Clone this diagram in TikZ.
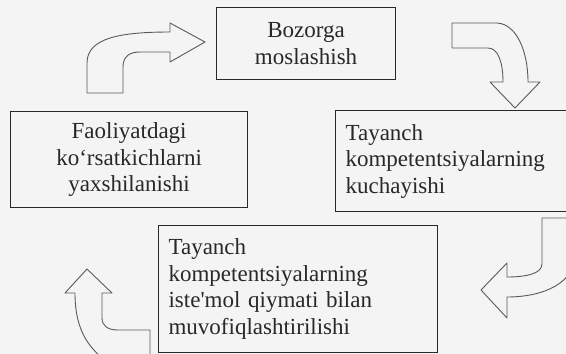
\documentclass[tikz,border=0pt]{standalone}
\usepackage{fontspec}
\setmainfont{Liberation Serif}
\definecolor{paper}{RGB}{244,244,244}
\definecolor{ink}{RGB}{40,40,40}
\definecolor{arrowline}{RGB}{90,90,90}
\begin{document}
\begin{tikzpicture}[x=1pt,y=-1pt,
  box/.style={draw=ink, line width=1.2pt, fill=paper, inner xsep=10pt, inner ysep=0pt,
    anchor=north west, font=\fontsize{23}{26.5}\selectfont, text=ink},
  blockarrow/.style={draw=arrowline, line width=0.9pt, fill=paper, line join=round}]
\fill[paper] (0,0) rectangle (566,354);
\useasboundingbox (0,0) rectangle (566,354);
\clip (0,0) rectangle (566,354);
% block arrows
\draw[blockarrow] (87,93) -- (87,63) .. controls (87,38) and (120,32) .. (170,32)
  -- (170,23) -- (205,42) -- (170,62) -- (170,52) -- (140,52)
  .. controls (130,52) and (123,56) .. (123,67) -- (123,93) -- cycle;
\draw[blockarrow] (452,23) -- (497,23) .. controls (516,24) and (528,50) .. (528,82)
  -- (540,82) -- (515,108) -- (490,82) -- (503,82)
  .. controls (503,62) and (498,48) .. (488,48) -- (452,48) -- cycle;
\draw[blockarrow] (542,218) -- (575,218) -- (575,255)
  .. controls (575,282) and (545,297) .. (507,297) -- (507,318) -- (481,290)
  -- (507,263) -- (507,277) .. controls (525,277) and (542,274) .. (542,264) -- cycle;
\draw[blockarrow] (87,269) -- (112,293) -- (102,293) -- (102,318)
  .. controls (102,326) and (108,330) .. (118,330) -- (150,330) -- (150,360)
  -- (105,360) .. controls (85,345) and (75,325) .. (75,293) -- (65,293) -- cycle;
% boxes
\node[box, minimum width=179pt, minimum height=72pt, text width=159pt, align=center]
  (b1) at (216,7) {Bozorga\\moslashish};
\node[box, minimum width=245pt, minimum height=101pt, text width=225pt, align=left]
  (b2) at (335,110) {Tayanch\\kompetentsiyalarning\\kuchayishi};
\node[box, minimum width=279pt, minimum height=127pt, text width=259pt, align=left]
  (b3) at (158,225) {Tayanch\\kompetentsiyalarning\\iste\textquotesingle mol qiymati bilan\\muvofiqlashtirilishi};
\node[box, minimum width=237pt, minimum height=96pt, text width=217pt, align=center]
  (b4) at (10,111) {Faoliyatdagi\\ko‘rsatkichlarni\\yaxshilanishi};
\end{tikzpicture}
\end{document}
